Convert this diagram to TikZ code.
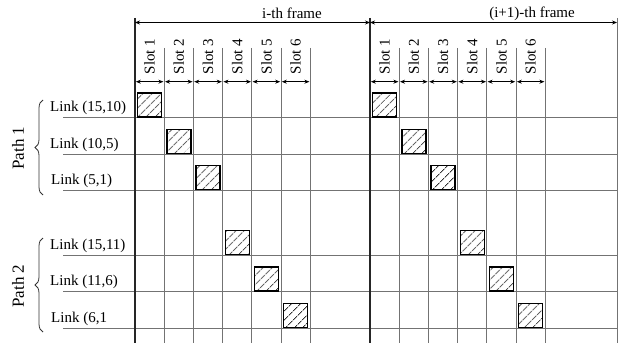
\documentclass[tikz,border=0pt]{standalone}
\usepackage{fontspec}
\setmainfont{Liberation Serif}
\usetikzlibrary{arrows.meta,patterns.meta,decorations.pathreplacing}
\begin{document}
\begin{tikzpicture}[x=1pt,y=-1pt,
  grid/.style={draw=black!55,line width=0.9pt},
  thick line/.style={draw=black!85,line width=1.8pt},
  dim/.style={draw=black,line width=0.8pt,{Stealth[length=5pt,width=4pt]}-{Stealth[length=5pt,width=4pt]}},
  slotlabel/.style={rotate=90,font=\fontsize{15}{17}\selectfont,inner sep=0pt},
  linklabel/.style={anchor=west,font=\fontsize{15}{17}\selectfont,inner sep=0pt},
  framelabel/.style={font=\fontsize{15}{17}\selectfont,inner sep=0pt},
  pathlabel/.style={rotate=90,font=\fontsize{17}{19}\selectfont,inner sep=0pt},
  hatch/.style={draw=black,line width=1.4pt,fill=white,
    pattern={Lines[angle=45,distance=6.5pt,line width=0.9pt]},pattern color=black!80,
    minimum width=24pt,minimum height=24pt,inner sep=0pt},
  brc/.style={draw=black!80,line width=0.8pt,decorate,decoration={brace,amplitude=8pt}}
]
\useasboundingbox (0,0) rectangle (618,345);
% horizontal grid lines
\foreach \y/\n in {117.7/1,154/2,190.3/3,255/4,291.7/5,328.3/6}{
  \coordinate (hl\n) at (63,\y);
  \coordinate (hr\n) at (617,\y);
  \draw[grid] (hl\n) -- (hr\n);
}
% slot lines
\foreach \f/\x in {1/135,2/370}{
  \foreach \k in {1,...,6}{
    \coordinate (t\f-\k) at ({\x+\k*29.2},48);
    \coordinate (b\f-\k) at ({\x+\k*29.2},343);
    \draw[grid] (t\f-\k) -- (b\f-\k);
  }
  \coordinate (t\f-0) at (\x,18);
  \coordinate (b\f-0) at (\x,343);
}
\coordinate (t3) at (617,18);
\coordinate (b3) at (617,343);
\draw[grid] (t3) -- (b3);
\draw[thick line] (t1-0) -- (b1-0);
\draw[thick line] (t2-0) -- (b2-0);
% frame arrows
\coordinate (fa0) at (135,22.5);
\coordinate (fa1) at (370,22.5);
\coordinate (fa2) at (617,22.5);
\draw[dim] (fa0) -- (fa1);
\draw[dim] (fa1) -- (fa2);
\node[framelabel] (fl1) at (292,13.5) {i-th frame};
\node[framelabel] (fl2) at (532,13.5) {(i+1)-th frame};
% slot arrows and labels
\foreach \f/\x in {1/135,2/370}{
  \foreach \k in {1,...,6}{
    \pgfmathsetmacro{\xa}{\x+(\k-1)*29.2+0.8}
    \pgfmathsetmacro{\xb}{\x+\k*29.2-0.8}
    \pgfmathsetmacro{\xc}{\x+(\k-0.5)*29.2}
    \coordinate (sa\f-\k) at (\xa,81.7);
    \coordinate (sb\f-\k) at (\xb,81.7);
    \draw[dim] (sa\f-\k) -- (sb\f-\k);
    \node[slotlabel] (sl\f-\k) at (\xc,56.5) {Slot \k};
  }
}
% hatched boxes
\foreach \f/\x in {1/135,2/370}{
  \foreach \k/\yb in {1/117.7,2/154,3/190.3,4/255,5/291.7,6/328.3}{
    \pgfmathsetmacro{\xc}{\x+(\k-0.5)*29.2}
    \pgfmathsetmacro{\yc}{\yb-12.6}
    \node[hatch] (box\f-\k) at (\xc,\yc) {};
  }
}
% link labels
\node[linklabel] (l1) at (50,108.2) {Link (15,10)};
\node[linklabel] (l2) at (50,144.5) {Link (10,5)};
\node[linklabel] (l3) at (51,180.8) {Link (5,1)};
\node[linklabel] (l4) at (50,245.5) {Link (15,11)};
\node[linklabel] (l5) at (50,282.2) {Link (11,6)};
\node[linklabel] (l6) at (51,318.8) {Link (6,1};
% braces
\coordinate (p1b) at (43,195);
\coordinate (p1t) at (43,100);
\coordinate (p2b) at (43,332);
\coordinate (p2t) at (43,238);
\draw[brc] (p1b) -- (p1t);
\draw[brc] (p2b) -- (p2t);
\node[pathlabel] (pl1) at (18,148) {Path 1};
\node[pathlabel] (pl2) at (18,286) {Path 2};
\end{tikzpicture}
\end{document}
